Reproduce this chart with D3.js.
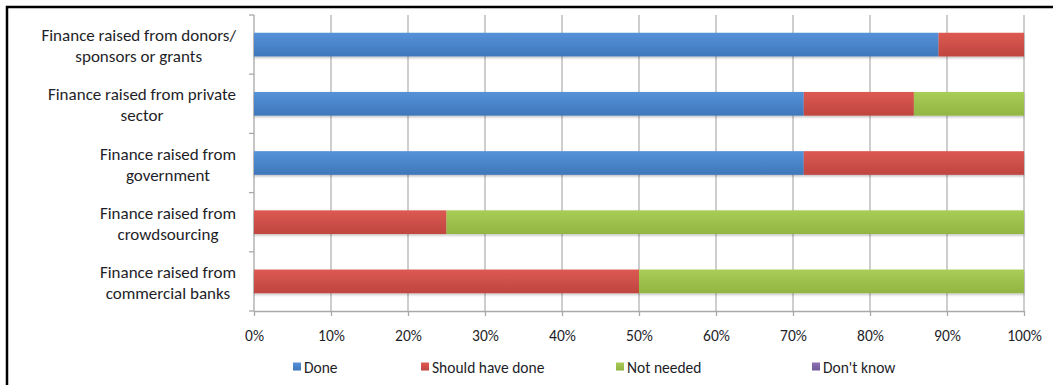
<!DOCTYPE html>
<html>
<head>
<meta charset="utf-8">
<script src="https://cdn.jsdelivr.net/npm/d3@7"></script>
<style>
  html, body { margin: 0; padding: 0; background: #fff; }
  svg { display: block; }
  text { font-family: Carlito, Lato, "Open Sans", sans-serif; fill: #1e1e28; }
</style>
</head>
<body>
<svg id="chart" width="1053" height="385"></svg>
<script>
// Funding sources, top to bottom
const categories = [
  "Finance raised from donors/ sponsors or grants",
  "Finance raised from private sector",
  "Finance raised from government",
  "Finance raised from crowdsourcing",
  "Finance raised from commercial banks"
];
// Label lines as they wrap under each bar
const labelLines = [
  ["Finance raised from donors/", "sponsors or grants"],
  ["Finance raised from private", "sector"],
  ["Finance raised from", "government"],
  ["Finance raised from", "crowdsourcing"],
  ["Finance raised from", "commercial banks"]
];
// Share of responses per category (fractions of 1)
const done       = [0.889, 0.714, 0.714, 0.00, 0.00];
const shouldHave = [0.111, 0.143, 0.286, 0.25, 0.50];
const notNeeded  = [0.000, 0.143, 0.000, 0.75, 0.50];
const dontKnow   = [0.000, 0.000, 0.000, 0.00, 0.00];

const seriesNames = ["Done", "Should have done", "Not needed", "Don't know"];
const seriesKeys  = ["done", "shouldHave", "notNeeded", "dontKnow"];
const tickValues  = [0, 0.1, 0.2, 0.3, 0.4, 0.5, 0.6, 0.7, 0.8, 0.9, 1.0];

const colors = {
  done:       ["#5592d8", "#3f77ba"],
  shouldHave: ["#dc5a52", "#bf453f"],
  notNeeded:  ["#aacd57", "#91b443"],
  dontKnow:   ["#8e72b4", "#735a99"]
};

const rows = categories.map((c, i) => ({
  category: c,
  done: done[i], shouldHave: shouldHave[i], notNeeded: notNeeded[i], dontKnow: dontKnow[i]
}));

const svg = d3.select("#chart");
const defs = svg.append("defs");

seriesKeys.forEach(k => {
  const g = defs.append("linearGradient")
    .attr("id", "grad-" + k).attr("x1", 0).attr("y1", 0).attr("x2", 0).attr("y2", 1);
  g.append("stop").attr("offset", "0%").attr("stop-color", colors[k][0]);
  g.append("stop").attr("offset", "100%").attr("stop-color", colors[k][1]);
});
const shadow = defs.append("filter").attr("id", "barShadow")
  .attr("x", "-2%").attr("y", "-20%").attr("width", "104%").attr("height", "160%");
shadow.append("feDropShadow").attr("dx", 0).attr("dy", 1.5).attr("stdDeviation", 1.2)
  .attr("flood-color", "#000").attr("flood-opacity", 0.25);

const plot = { left: 254, right: 1024, top: 15, bottom: 311 };

const x = d3.scaleLinear().domain([0, 1]).range([plot.left, plot.right]);
const y = d3.scaleBand().domain(categories).range([plot.top, plot.bottom])
  .paddingInner(0.6).paddingOuter(0.3);

// frame around the figure
svg.append("rect")
  .attr("x", 7).attr("y", 7).attr("width", 1100).attr("height", 420)
  .attr("fill", "none").attr("stroke", "#000").attr("stroke-width", 2.5);

// vertical gridlines
svg.append("g").selectAll("line")
  .data(tickValues.filter(v => v > 0))
  .join("line")
  .attr("x1", d => x(d)).attr("x2", d => x(d))
  .attr("y1", plot.top).attr("y2", plot.bottom)
  .attr("stroke", "#b4b4b4").attr("stroke-width", 1.3);

// x axis
const xAxis = d3.axisBottom(x).tickValues(tickValues)
  .tickFormat(d3.format(".0%")).tickSizeInner(5).tickSizeOuter(0).tickPadding(14);
const gx = svg.append("g").attr("transform", `translate(0,${plot.bottom})`).call(xAxis);
gx.select(".domain").attr("stroke", "#a8a8a8").attr("stroke-width", 1.3);
gx.selectAll(".tick line").attr("stroke", "#a8a8a8").attr("stroke-width", 1.3);
gx.selectAll(".tick text").attr("font-size", 15.5).attr("fill", "#1e1e28")
  .style("font-family", "Carlito, Lato, 'Open Sans', sans-serif");

// y axis line with ticks at band boundaries
svg.append("line")
  .attr("x1", plot.left).attr("x2", plot.left)
  .attr("y1", plot.top).attr("y2", plot.bottom)
  .attr("stroke", "#a8a8a8").attr("stroke-width", 1.3);
const boundaries = d3.range(categories.length + 1).map(i => plot.top + i * (plot.bottom - plot.top) / categories.length);
svg.append("g").selectAll("line")
  .data(boundaries)
  .join("line")
  .attr("x1", plot.left - 5).attr("x2", plot.left)
  .attr("y1", d => d).attr("y2", d => d)
  .attr("stroke", "#a8a8a8").attr("stroke-width", 1.3);

// stacked bars
const stack = d3.stack().keys(seriesKeys);
const layers = stack(rows);
svg.append("g").attr("filter", "url(#barShadow)")
  .selectAll("g")
  .data(layers)
  .join("g")
  .attr("fill", d => `url(#grad-${d.key})`)
  .selectAll("rect")
  .data(d => d)
  .join("rect")
  .attr("x", d => x(d[0]))
  .attr("width", d => Math.max(0, x(d[1]) - x(d[0])))
  .attr("y", d => y(d.data.category))
  .attr("height", y.bandwidth());

// category labels: block right-aligned, each line centred within it
const labelRight = 236;
const labelFont = 17;
const lineGap = 21;
const gl = svg.append("g");
categories.forEach((c, i) => {
  const lines = labelLines[i];
  const g = gl.append("g");
  const texts = lines.map((t, j) => g.append("text")
    .attr("font-size", labelFont)
    .attr("text-anchor", "middle")
    .attr("dominant-baseline", "central")
    .attr("y", y(c) + y.bandwidth() / 2 + (j - (lines.length - 1) / 2) * lineGap + 1.5)
    .text(t));
  const w = d3.max(texts, t => t.node().getComputedTextLength());
  texts.forEach(t => t.attr("x", labelRight - w / 2));
});

// legend
const legendX = [293, 421, 616, 812];
const legendY = 367;
const lg = svg.append("g");
seriesKeys.forEach((k, i) => {
  lg.append("rect")
    .attr("x", legendX[i]).attr("y", legendY - 4.5)
    .attr("width", 8).attr("height", 8)
    .attr("fill", `url(#grad-${k})`);
  lg.append("text")
    .attr("x", legendX[i] + 11).attr("y", legendY)
    .attr("dominant-baseline", "central")
    .attr("font-size", 15.5)
    .text(seriesNames[i]);
});
</script>
</body>
</html>
